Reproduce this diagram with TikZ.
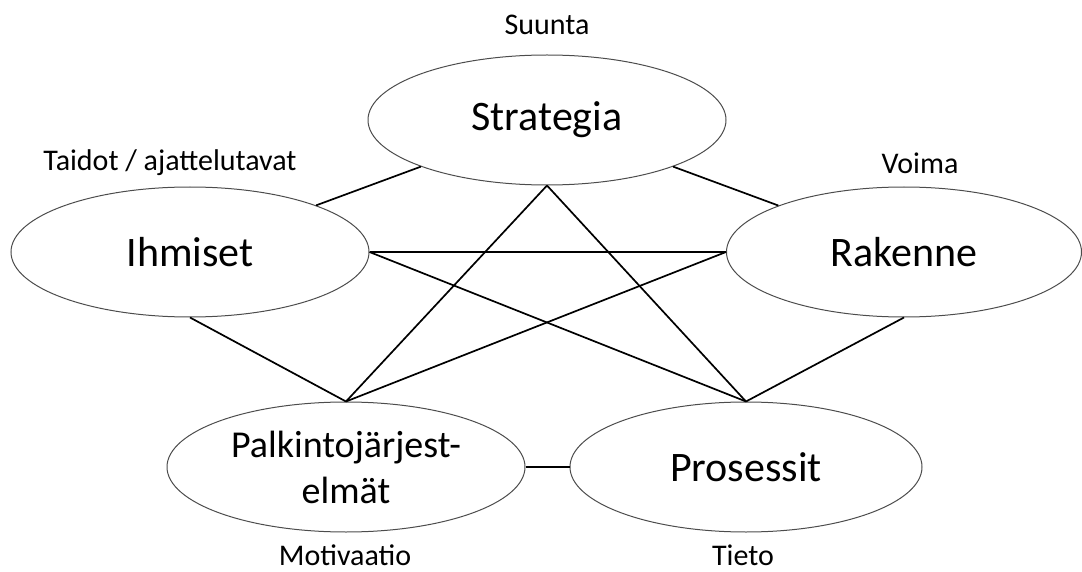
\documentclass[tikz,border=0pt]{standalone}
\usepackage{fontspec}
\setmainfont{Carlito}
\usetikzlibrary{shapes.geometric}

\begin{document}
\begin{tikzpicture}[x=1pt, y=-1pt,
    elem/.style={ellipse, draw=black!70, line width=1pt, inner sep=0pt, minimum width=358pt, minimum height=130pt, font=\fontsize{42}{50}\selectfont},
    tag/.style={inner sep=0pt, font=\fontsize{30}{36}\selectfont},
    link/.style={line width=1.7pt}]
      \useasboundingbox (0,0) rectangle (1082,572);

      \node[elem] (strategia) at (547,120) {Strategia};
      \node[elem] (ihmiset) at (190,252) {Ihmiset};
      \node[elem, minimum width=355pt] (rakenne) at (904,252) {Rakenne};
      \node[elem, align=center, font=\fontsize{38}{46}\selectfont] (palkinto) at (346,467) {Palkintojärjest-\\elmät};
      \node[elem, minimum width=352pt] (prosessit) at (746,467) {Prosessit};

      \node[tag] (suunta) at (547,25) {Suunta};
      \node[tag] (taidot) at (170,163) {Taidot / ajattelutavat};
      \node[tag] (voima) at (920,163) {Voima};
      \node[tag] (motivaatio) at (345,555) {Motivaatio};
      \node[tag] (tieto) at (743,555) {Tieto};

      \draw[link] (ihmiset) -- (strategia);
      \draw[link] (strategia) -- (rakenne);
      \draw[link] (ihmiset) -- (rakenne);
      \draw[link] (ihmiset.east) -- (prosessit.north);
      \draw[link] (rakenne.west) -- (palkinto.north);
      \draw[link] (strategia.south) -- (palkinto.north);
      \draw[link] (strategia.south) -- (prosessit.north);
      \draw[link] (ihmiset.south) -- (palkinto.north);
      \draw[link] (rakenne.south) -- (prosessit.north);
      \draw[link] (palkinto) -- (prosessit);
    \end{tikzpicture}
\end{document}
